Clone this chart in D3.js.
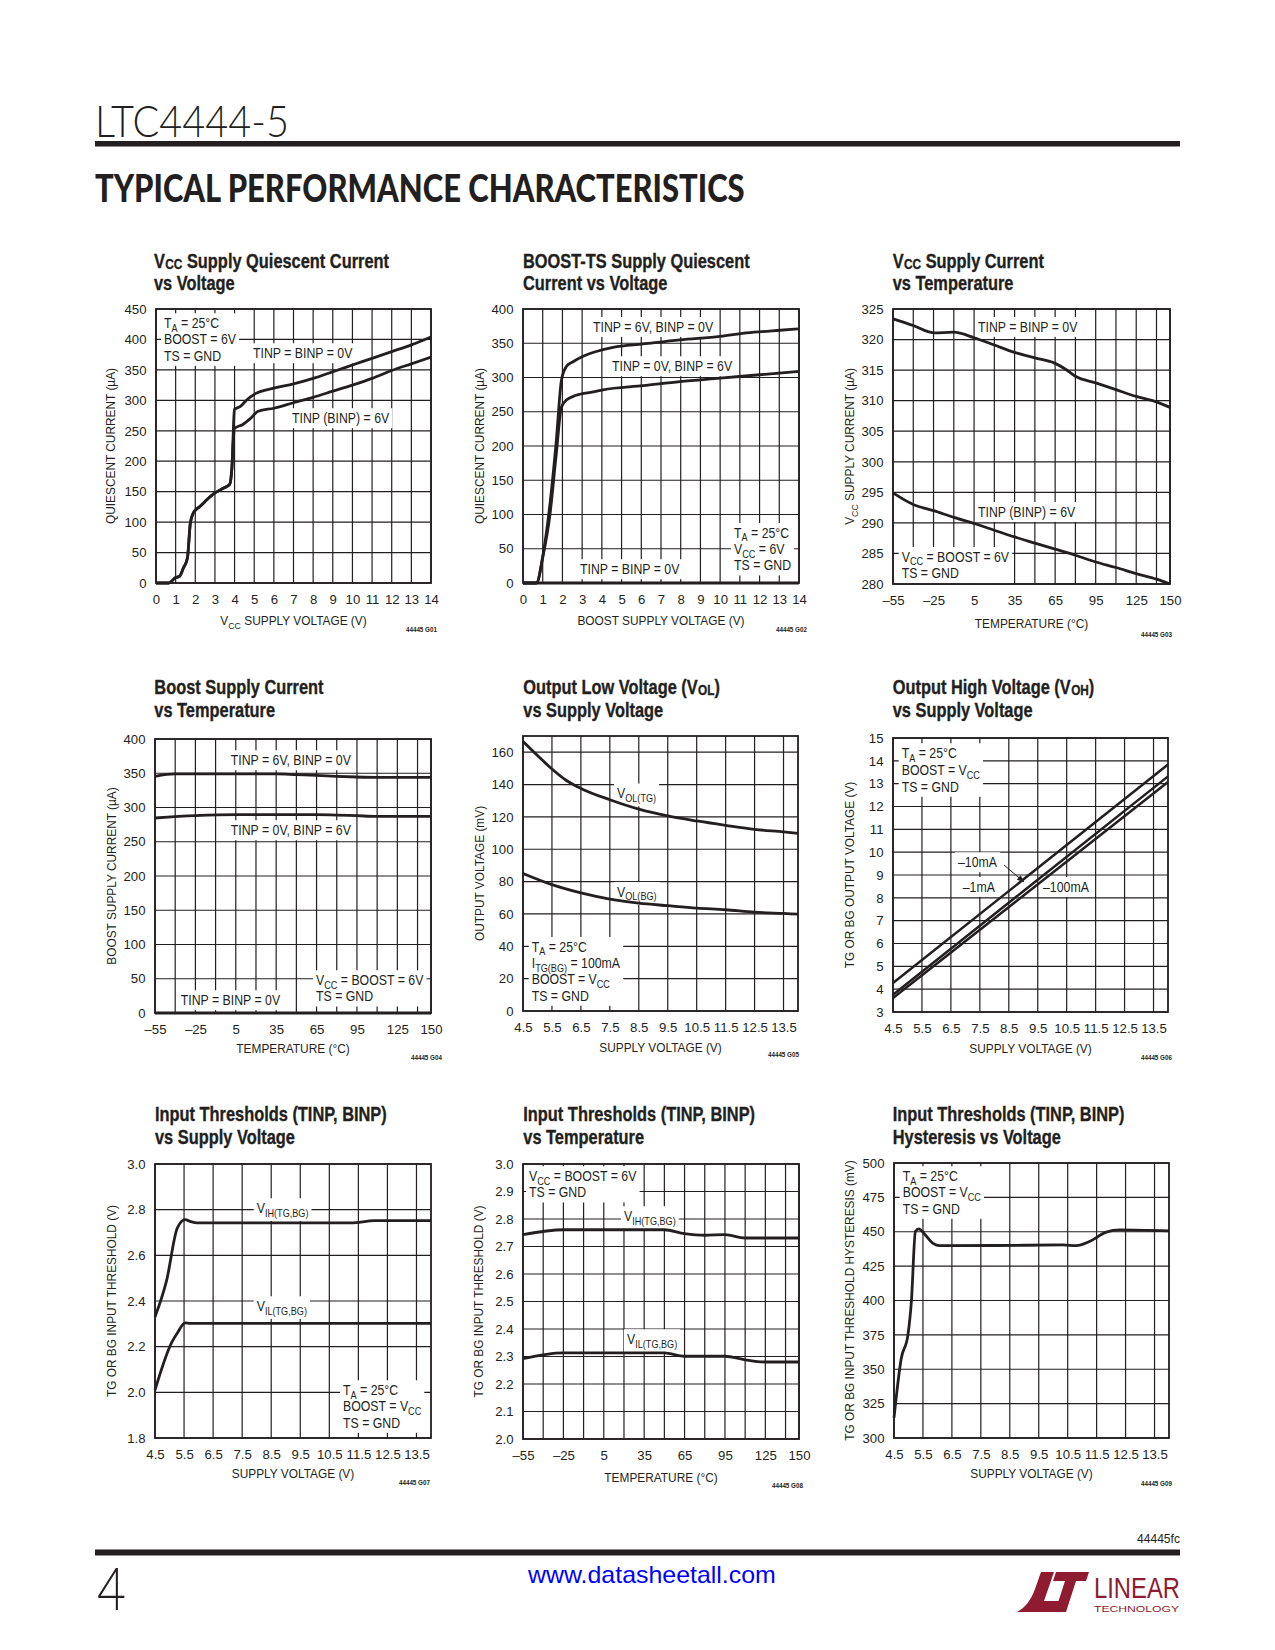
<!DOCTYPE html>
<html><head><meta charset="utf-8">
<script src="https://cdn.jsdelivr.net/npm/d3@7"></script>
<style>html,body{margin:0;padding:0;background:#fff}svg{display:block}</style>
</head><body>
<svg id="page" width="1275" height="1650"></svg>
<script>
// ---------------- DATA ----------------
// G01: VCC supply quiescent current vs voltage
const g01Vcc0V = [0,0.65,1.0,1.2,1.4,1.6,1.75,1.9,2.25,2.5,3.0,3.45,3.75,3.87,3.92,3.99,4.3,4.63,5.06,6,7,8,9,10,11,12,13,14];
const g01Iq0V  = [0,0,9,11,25,41,99,115,126,134,148,156,162,192,235,285,290,301,311,320,327,336,347,358,369,380,391,404];
const g01Vcc6V = [0,0.65,1.0,1.2,1.4,1.6,1.75,1.9,2.25,2.5,3.0,3.45,3.75,3.87,3.92,4.0,4.4,4.8,5.2,6,7,8,9,10,11,12,13,14];
const g01Iq6V  = [0,0,9,11,25,41,99,115,126,134,148,156,162,192,225,254,260,270,282,287,296,305,315,325,336,349,360,371];
const g01XTicks = [0,1,2,3,4,5,6,7,8,9,10,11,12,13,14];
const g01YTicks = [0,50,100,150,200,250,300,350,400,450];
// G02: BOOST-TS supply quiescent current vs voltage
const g02VbT = [0,0.68,1.02,1.35,1.69,1.95,2.2,2.54,3.05,3.72,4.57,6.1,7.96,10,11.34,13.04,14];
const g02IqT = [0,0,42,111,208,296,316,323,331,338,344,349,355,360,365,369,371];
const g02VbB = [0,0.68,1.02,1.35,1.69,1.95,2.2,2.7,3.56,4.06,6.1,7.96,10,12,14];
const g02IqB = [0,0,40,96,189,257,267,274,279,282,288,294,299,304,309];
const g02VbOff = [0,14];
const g02IqOff = [0,0];
const g02XTicks = [0,1,2,3,4,5,6,7,8,9,10,11,12,13,14];
const g02YTicks = [0,50,100,150,200,250,300,350,400];
// G03: VCC supply current vs temperature
const g03TempA = [-55,-40,-25,-10,5,20,35,50,65,73,80,95,110,125,140,150];
const g03Icc0V = [323.4,322.3,321.1,321.2,320.3,319.1,317.9,317.0,316.1,315.1,314.0,312.9,311.8,310.7,309.8,308.9];
const g03TempB = [-55,-40,-25,-10,5,20,35,50,65,80,95,110,125,140,150];
const g03Icc6V = [294.9,293.0,292.0,290.9,289.9,288.8,287.7,286.7,285.7,284.7,283.6,282.7,281.7,280.8,280.0];
const tempTicks = [-55,-25,5,35,65,95,125,150];
const tempGrid = [-55,-40,-25,-10,5,20,35,50,65,80,95,110,125,140,150];
const g03YTicks = [280,285,290,295,300,305,310,315,320,325];
// G04: Boost supply current vs temperature
const g04TempA = [-55,-40,-25,5,35,50,65,80,95,110,125,150];
const g04IbT6V = [345.5,349,349,349,349,348,347,345.5,344.5,344,344,344];
const g04TempB = [-55,-25,5,35,65,80,95,110,150];
const g04IbB6V = [284.7,288,289.5,289.5,289.5,289,288,287,287];
const g04TempOff = [-55,150];
const g04IbOff = [0,0];
const g04YTicks = [0,50,100,150,200,250,300,350,400];
// G05: VOL vs supply voltage
const g05VsTG  = [4.5,5,5.5,6,6.5,7.5,8.5,9.5,10.5,11.5,12.5,13.5,14];
const g05VolTG = [166.6,157.9,149.6,142.5,137.6,130.6,124.8,120.6,117.5,114.8,112.3,110.7,109.8];
const g05VsBG  = [4.5,5.5,6.5,7.5,8.5,9.5,10.5,11.5,12.5,13.5,14];
const g05VolBG = [85.0,78.1,73.0,69.2,66.7,65.1,63.6,62.6,61.1,60.3,59.9];
const supplyTicks = [4.5,5.5,6.5,7.5,8.5,9.5,10.5,11.5,12.5,13.5];
const g05YTicks = [0,20,40,60,80,100,120,140,160];
// G06: VOH vs supply voltage
const g06Vs = [4.5,9,14];
const g06Voh1mA = [4.27,8.80,13.84];
const g06Voh10mA = [3.76,8.29,13.32];
const g06Voh100mA = [3.61,8.09,13.07];
const g06YTicks = [3,4,5,6,7,8,9,10,11,12,13,14,15];
// G07: input thresholds vs supply voltage
const g07VsIH = [4.5,4.9,5.27,5.54,5.71,5.94,8,11.25,12.05,14];
const g07Vih  = [2.33,2.49,2.72,2.756,2.749,2.742,2.742,2.742,2.752,2.752];
const g07VsIL = [4.5,5.08,5.27,5.54,5.71,8,14];
const g07Vil  = [2.01,2.22,2.26,2.304,2.302,2.302,2.302];
const g07YTicks = [1.8,2.0,2.2,2.4,2.6,2.8,3.0];
// G08: input thresholds vs temperature
const g08Temp = [-55,-25,5,35,50,65,80,95,110,125,150];
const g08Vih  = [2.743,2.761,2.761,2.761,2.761,2.747,2.741,2.743,2.731,2.731,2.731];
const g08Vil  = [2.292,2.313,2.313,2.313,2.313,2.301,2.301,2.301,2.288,2.280,2.280];
const g08YTicks = [2.0,2.1,2.2,2.3,2.4,2.5,2.6,2.7,2.8,2.9,3.0];
// G09: hysteresis vs voltage
const g09Vs   = [4.5,4.75,4.98,5.1,5.24,5.36,5.56,5.85,6.08,8,10.33,10.8,11.25,11.83,12.29,14];
const g09Hyst = [314.6,357.8,374.8,399.1,450.1,452.1,448.2,441.6,439.9,440,440.4,439.9,442.9,449.7,451.4,450.6];
const g09YTicks = [300,325,350,375,400,425,450,475,500];

// ---------------- RENDER ----------------
const INK = '#231f20';
const FONT = "'Liberation Sans', Arial, Helvetica, sans-serif";
const svg = d3.select('#page');
svg.append('rect').attr('width',1275).attr('height',1650).attr('fill','#fff');

function rich(t, str, size, shift, subDx, subScale){
  const parts = str.split(/(_\{[^}]*\})/);
  let down = false;
  const sh = size*shift;
  parts.forEach(p=>{
    if(!p) return;
    if(p.startsWith('_{')){
      const s = t.append('tspan').attr('font-size', size*subScale).attr('dy', sh).text(p.slice(2,-1));
      if(subDx) s.attr('dx', subDx);
      down = true;
    } else {
      const s = t.append('tspan').text(p);
      if(down){ s.attr('dy', -sh); down=false; }
    }
  });
}
function label(parent, x, y, str, o={}){
  const size = o.size||14;
  const outer = parent.append('g');
  const g = outer.append('g');
  const t = g.append('text').attr('x',0).attr('y',0)
    .attr('text-anchor', o.anchor||'start')
    .attr('font-family', o.family||FONT).attr('font-size', size)
    .attr('font-weight', o.weight||400).attr('fill', o.fill||INK)
    .style('white-space','pre');
  if(o.stroke) t.attr('stroke', o.fill||INK).attr('stroke-width', o.stroke);
  rich(t, str, size, o.shift===undefined?0.27:o.shift, o.subDx||0, o.subScale||0.74);
  let sx = (o.sx===undefined)?0.88:o.sx;
  if(o.fitW){ const w = t.node().getBBox().width; sx = o.fitW / w; }
  g.attr('transform', `translate(${x},${y})${o.rotate?` rotate(${o.rotate})`:''} scale(${sx},1)`);
  return outer;
}
function whiteBox(layer, outer, pad){
  const b = outer.node().getBBox();
  layer.append('rect').attr('x',b.x-pad).attr('y',b.y-pad+1)
    .attr('width',b.width+2*pad).attr('height',b.height+2*pad-2).attr('fill','#fff');
}
const tfmt = d => d<0 ? '–'+(-d) : String(d);
const f1 = d3.format('.1f');

const panels = [
 {box:{L:156,R:431,T:309,B:583}, xd:[0,14], yd:[0,450], xt:g01XTicks, yt:g01YTicks, xg:g01XTicks, yg:g01YTicks, xf:String, yf:String,
  series:[{x:g01Vcc0V,y:g01Iq0V},{x:g01Vcc6V,y:g01Iq6V}],
  title:["V_{CC} Supply Quiescent Current","vs Voltage"], tx:154, ty:[268,290],
  xTitle:"V_{CC} SUPPLY VOLTAGE (V)", xTitleY:625, yTitle:"QUIESCENT CURRENT (µA)", yTitleX:115,
  code:"44445 G01", codeX:437, codeY:632,
  notes:[{lines:["T_{A} = 25°C","BOOST = 6V","TS = GND"],x:164,y:328},{lines:["TINP = BINP = 0V"],x:253,y:358},{lines:["TINP (BINP) = 6V"],x:292,y:423}]},
 {box:{L:523,R:799,T:309,B:583}, xd:[0,14], yd:[0,400], xt:g02XTicks, yt:g02YTicks, xg:g02XTicks, yg:g02YTicks, xf:String, yf:String,
  series:[{x:g02VbT,y:g02IqT},{x:g02VbB,y:g02IqB},{x:g02VbOff,y:g02IqOff}],
  title:["BOOST-TS Supply Quiescent","Current vs Voltage"], tx:523, ty:[268,290],
  xTitle:"BOOST SUPPLY VOLTAGE (V)", xTitleY:625, yTitle:"QUIESCENT CURRENT (µA)", yTitleX:484,
  code:"44445 G02", codeX:807, codeY:632,
  notes:[{lines:["TINP = 6V, BINP = 0V"],x:593,y:331.7},{lines:["TINP = 0V, BINP = 6V"],x:612,y:371},
         {lines:["T_{A} = 25°C","V_{CC} = 6V","TS = GND"],x:734,y:537.7},{lines:["TINP = BINP = 0V"],x:580,y:574}]},
 {box:{L:893,R:1170,T:309,B:584}, xd:[-55,150], yd:[280,325], xt:tempTicks, yt:g03YTicks, xg:tempGrid, yg:g03YTicks, xf:tfmt, yf:String,
  series:[{x:g03TempA,y:g03Icc0V},{x:g03TempB,y:g03Icc6V}],
  title:["V_{CC} Supply Current","vs Temperature"], tx:892.7, ty:[268,290],
  xTitle:"TEMPERATURE (°C)", xTitleY:628, yTitle:"V_{CC} SUPPLY CURRENT (µA)", yTitleX:854,
  code:"44445 G03", codeX:1172, codeY:637,
  notes:[{lines:["TINP = BINP = 0V"],x:978,y:331.7},{lines:["TINP (BINP) = 6V"],x:978,y:516.7},{lines:["V_{CC} = BOOST = 6V","TS = GND"],x:901.7,y:561.7}]},
 {box:{L:155,R:431,T:739,B:1013}, xd:[-55,150], yd:[0,400], xt:tempTicks, yt:g04YTicks, xg:tempGrid, yg:g04YTicks, xf:tfmt, yf:String,
  series:[{x:g04TempA,y:g04IbT6V},{x:g04TempB,y:g04IbB6V},{x:g04TempOff,y:g04IbOff}],
  title:["Boost Supply Current","vs Temperature"], tx:154.3, ty:[694,716.7],
  xTitle:"TEMPERATURE (°C)", xTitleY:1053, yTitle:"BOOST SUPPLY CURRENT (µA)", yTitleX:116,
  code:"44445 G04", codeX:442, codeY:1060,
  notes:[{lines:["TINP = 6V, BINP = 0V"],x:230.7,y:765},{lines:["TINP = 0V, BINP = 6V"],x:230.7,y:835},
         {lines:["V_{CC} = BOOST = 6V","TS = GND"],x:316,y:985},{lines:["TINP = BINP = 0V"],x:180.7,y:1005}]},
 {box:{L:523,R:798,T:736,B:1011}, xd:[4.5,14], yd:[0,170], xt:supplyTicks, yt:g05YTicks, xg:supplyTicks, yg:g05YTicks, xf:f1, yf:String,
  series:[{x:g05VsTG,y:g05VolTG},{x:g05VsBG,y:g05VolBG}],
  title:["Output Low Voltage (V_{OL})","vs Supply Voltage"], tx:523.3, ty:[694,716.7],
  xTitle:"SUPPLY VOLTAGE (V)", xTitleY:1051.7, yTitle:"OUTPUT VOLTAGE (mV)", yTitleX:484,
  code:"44445 G05", codeX:799, codeY:1057,
  notes:[{lines:["V_{OL(TG)}"],x:617,y:798.3},{lines:["V_{OL(BG)}"],x:617,y:896.7},
         {lines:["T_{A} = 25°C","I_{TG(BG)} = 100mA","BOOST = V_{CC}","TS = GND"],x:531.7,y:951.7}]},
 {box:{L:893,R:1168,T:738,B:1012}, xd:[4.5,14], yd:[3,15], xt:supplyTicks, yt:g06YTicks, xg:supplyTicks, yg:g06YTicks, xf:f1, yf:String, linear:true, thin:true,
  series:[{x:g06Vs,y:g06Voh1mA},{x:g06Vs,y:g06Voh10mA},{x:g06Vs,y:g06Voh100mA}],
  title:["Output High Voltage (V_{OH})","vs Supply Voltage"], tx:892.7, ty:[694,716.7],
  xTitle:"SUPPLY VOLTAGE (V)", xTitleY:1053, yTitle:"TG OR BG OUTPUT VOLTAGE (V)", yTitleX:854,
  code:"44445 G06", codeX:1172, codeY:1060,
  notes:[{lines:["T_{A} = 25°C","BOOST = V_{CC}","TS = GND"],x:901.7,y:758,lh:16.8},
         {lines:["–10mA"],x:958,y:867},{lines:["–1mA"],x:962.7,y:891.7},{lines:["–100mA"],x:1043,y:891.7}],
  arrow:[1004,865,1024,882]},
 {box:{L:155,R:431,T:1164,B:1438}, xd:[4.5,14], yd:[1.8,3.0], xt:supplyTicks, yt:g07YTicks, xg:supplyTicks, yg:g07YTicks, xf:f1, yf:f1,
  series:[{x:g07VsIH,y:g07Vih},{x:g07VsIL,y:g07Vil}],
  title:["Input Thresholds (TINP, BINP)","vs Supply Voltage"], tx:155, ty:[1121,1144.3],
  xTitle:"SUPPLY VOLTAGE (V)", xTitleY:1478, yTitle:"TG OR BG INPUT THRESHOLD (V)", yTitleX:116,
  code:"44445 G07", codeX:430, codeY:1485,
  notes:[{lines:["V_{IH(TG,BG)}"],x:256.7,y:1213},{lines:["V_{IL(TG,BG)}"],x:256.7,y:1311},
         {lines:["T_{A} = 25°C","BOOST = V_{CC}","TS = GND"],x:343,y:1395}]},
 {box:{L:523,R:799,T:1164,B:1439}, xd:[-55,150], yd:[2.0,3.0], xt:tempTicks, yt:g08YTicks, xg:tempGrid, yg:g08YTicks, xf:tfmt, yf:f1,
  series:[{x:g08Temp,y:g08Vih},{x:g08Temp,y:g08Vil}],
  title:["Input Thresholds (TINP, BINP)","vs Temperature"], tx:523.3, ty:[1121,1144.3],
  xTitle:"TEMPERATURE (°C)", xTitleY:1481.7, yTitle:"TG OR BG INPUT THRESHOLD (V)", yTitleX:483,
  code:"44445 G08", codeX:803, codeY:1488,
  notes:[{lines:["V_{CC} = BOOST = 6V","TS = GND"],x:529,y:1181},{lines:["V_{IH(TG,BG)}"],x:624,y:1221},{lines:["V_{IL(TG,BG)}"],x:627,y:1344}]},
 {box:{L:894,R:1169,T:1163,B:1438}, xd:[4.5,14], yd:[300,500], xt:supplyTicks, yt:g09YTicks, xg:supplyTicks, yg:g09YTicks, xf:f1, yf:String,
  series:[{x:g09Vs,y:g09Hyst}],
  title:["Input Thresholds (TINP, BINP)","Hysteresis vs Voltage"], tx:892.7, ty:[1121,1144.3],
  xTitle:"SUPPLY VOLTAGE (V)", xTitleY:1478, yTitle:"TG OR BG INPUT THRESHOLD HYSTERESIS (mV)", yTitleX:854,
  code:"44445 G09", codeX:1172, codeY:1485.7,
  notes:[{lines:["T_{A} = 25°C","BOOST = V_{CC}","TS = GND"],x:902.7,y:1181}]}
];

panels.forEach(p=>{
  const {L,R,T,B} = p.box;
  const x = d3.scaleLinear().domain(p.xd).range([L,R]);
  const y = d3.scaleLinear().domain(p.yd).range([B,T]);
  const g = svg.append('g');
  const grid = g.append('g'), boxes = g.append('g'), frame = g.append('g'), curves = g.append('g'), texts = g.append('g');
  grid.selectAll('line.v').data(p.xg).join('line').attr('class','v')
    .attr('x1',d=>x(d)).attr('x2',d=>x(d)).attr('y1',T).attr('y2',B)
    .attr('stroke',INK).attr('stroke-width',1.2);
  grid.selectAll('line.h').data(p.yg).join('line').attr('class','h')
    .attr('y1',d=>y(d)).attr('y2',d=>y(d)).attr('x1',L).attr('x2',R)
    .attr('stroke',INK).attr('stroke-width',1.2);
  frame.append('rect').attr('x',L).attr('y',T).attr('width',R-L).attr('height',B-T)
    .attr('fill','none').attr('stroke',INK).attr('stroke-width',1.8);
  // axes
  const ya = d3.axisLeft(y).tickValues(p.yt).tickSize(0).tickPadding(9.5).tickFormat(p.yf);
  const ag = texts.append('g').attr('transform',`translate(${L},0)`).call(ya);
  ag.select('.domain').remove();
  ag.selectAll('text').attr('font-family',FONT).attr('font-size',13.2).attr('fill',INK);
  const xa = d3.axisBottom(x).tickValues(p.xt).tickSize(0).tickPadding(11.5).tickFormat(p.xf);
  const bg = texts.append('g').attr('transform',`translate(0,${B})`).call(xa);
  bg.select('.domain').remove();
  bg.selectAll('text').attr('font-family',FONT).attr('font-size',13.2).attr('fill',INK);
  // curves
  const line = d3.line().x(d=>x(d[0])).y(d=>y(d[1])).curve(p.linear?d3.curveLinear:d3.curveMonotoneX);
  p.series.forEach(s=>{
    const pts = d3.zip(s.x, s.y);
    curves.append('path').datum(pts).attr('d',line).attr('fill','none')
      .attr('stroke',INK).attr('stroke-width',p.thin?2.5:2.8).attr('stroke-linejoin','round').attr('stroke-linecap','butt');
  });
  // notes
  p.notes.forEach(n=>{
    const grp = texts.append('g');
    n.lines.forEach((ln,i)=>label(grp, n.x, n.y + i*(n.lh||16.3), ln, {size:14, sx:0.88}));
    whiteBox(boxes, grp, 3);
  });
  if(p.arrow){
    const [x1,y1,x2,y2] = p.arrow;
    texts.append('line').attr('x1',x1).attr('y1',y1).attr('x2',x2).attr('y2',y2).attr('stroke',INK).attr('stroke-width',1);
    const ang = Math.atan2(y2-y1,x2-x1), hl=7, hw=3;
    const bx = x2-hl*Math.cos(ang), by = y2-hl*Math.sin(ang);
    texts.append('path').attr('fill',INK)
      .attr('d',`M${x2},${y2}L${bx-hw*Math.sin(ang)},${by+hw*Math.cos(ang)}L${bx+hw*Math.sin(ang)},${by-hw*Math.cos(ang)}Z`);
  }
  // titles
  p.title.forEach((t,i)=>label(texts, p.tx, p.ty[i], t, {size:20, weight:700, sx:0.82, shift:0.03, subScale:0.72, stroke:0.35, subDx:0.5}));
  label(texts, (L+R)/2, p.xTitleY, p.xTitle, {size:13.5, sx:0.88, anchor:'middle'});
  label(texts, p.yTitleX, (T+B)/2, p.yTitle, {size:13.5, sx:0.88, anchor:'middle', rotate:-90});
  label(texts, p.codeX, p.codeY, p.code, {size:7, sx:0.9, anchor:'end', weight:700});
});

// header
label(svg, 95, 137, 'LTC4444-5', {size:44, weight:300, family:"Lato, 'Open Sans', 'Liberation Sans', sans-serif", fitW:194});
svg.append('rect').attr('x',95).attr('y',141).attr('width',1085).attr('height',5.5).attr('fill',INK);
label(svg, 95, 202, 'TYPICAL PERFORMANCE CHARACTERISTICS', {size:38, weight:900, family:"Lato, 'DejaVu Sans', sans-serif", fitW:650});

// footer
label(svg, 1137, 1542.5, '44445fc', {size:12, fitW:43});
svg.append('rect').attr('x',95).attr('y',1549.5).attr('width',1085).attr('height',6).attr('fill',INK);
label(svg, 97, 1610, '4', {size:60, weight:300, family:"Lato, 'Open Sans', 'Liberation Sans', sans-serif", fitW:29});
label(svg, 528, 1583, 'www.datasheetall.com', {size:23, fill:'#0000ff', fitW:249});
const MAROON = '#8e1b30';
const logo = svg.append('g').attr('transform','translate(1016,1572)');
logo.append('path').attr('fill',MAROON).attr('d','M25,0 L38,0 L28,29 L46,29 L42,40 L1,40 C9,36 15,28 19,17 Z');
logo.append('path').attr('fill',MAROON).attr('d','M40,0 L73,0 L70,9 L60,9 L50,40 L39,40 L49,9 L37,9 Z');
label(svg, 1094, 1598, 'LINEAR', {size:30, fill:MAROON, fitW:86});
label(svg, 1094, 1612, 'TECHNOLOGY', {size:9.5, fill:MAROON, fitW:86});
</script></body></html>
